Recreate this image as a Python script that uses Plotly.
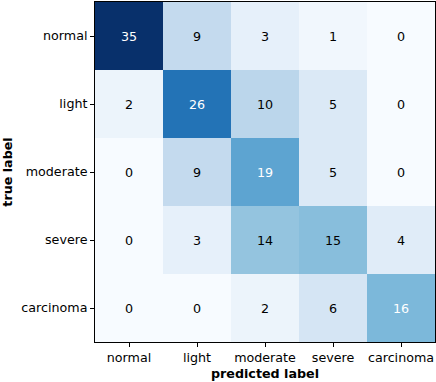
import plotly.graph_objects as go
import plotly.express as px

# confusion matrix values (rows: true, cols: predicted)
labels = ['normal', 'light', 'moderate', 'severe', 'carcinoma']
matrix = [
    [35, 9, 3, 1, 0],
    [2, 26, 10, 5, 0],
    [0, 9, 19, 5, 0],
    [0, 3, 14, 15, 4],
    [0, 0, 2, 6, 16],
]

blues = px.colors.sequential.Blues
n = len(blues)
colorscale = [[i / (n - 1), c] for i, c in enumerate(blues)]

font = dict(family='DejaVu Sans', size=12.7, color='black')

fig = go.Figure(go.Heatmap(
    z=matrix, x=labels, y=labels,
    colorscale=colorscale, zmin=0, zmax=35,
    showscale=False, hoverinfo='skip', xgap=0, ygap=0
))

# cell counts
annotations = []
for i, row in enumerate(matrix):
    for j, v in enumerate(row):
        annotations.append(dict(
            x=labels[j], y=labels[i], xref='x', yref='y',
            text=str(v), showarrow=False,
            font=dict(family='DejaVu Sans', size=12.7,
                      color='white' if v > 15.5 else 'black')
        ))

fig.update_layout(
    width=436, height=382,
    margin=dict(l=95, r=1, t=2, b=40),
    paper_bgcolor='white', plot_bgcolor='white',
    font=font,
    annotations=annotations,
    xaxis=dict(
        showgrid=False, zeroline=False,
        showline=True, linecolor='black', linewidth=1, mirror=True,
        ticks='outside', ticklen=4, tickcolor='black',
        title=dict(text='<b>predicted label</b>', standoff=4, font=font),
    ),
    yaxis=dict(
        showgrid=False, zeroline=False, autorange='reversed',
        showline=True, linecolor='black', linewidth=1, mirror=True,
        ticks='outside', ticklen=4, tickcolor='black',
        title=dict(text='<b>true label</b>', standoff=6, font=font),
    ),
)

fig.write_html('out.html', config={'displayModeBar': False},
               post_script="document.body.style.margin='0';")
